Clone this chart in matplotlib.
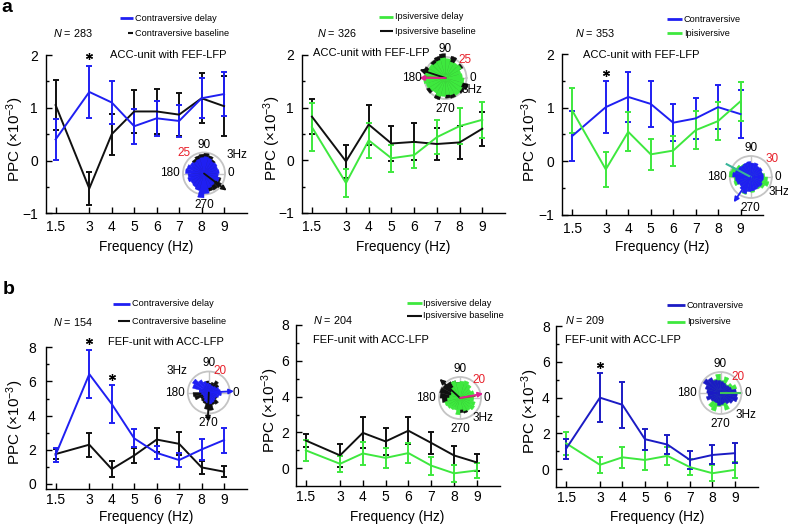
import numpy as np
import matplotlib
matplotlib.use('Agg')
import matplotlib.pyplot as plt

plt.rcParams['font.family'] = ['Liberation Sans', 'DejaVu Sans']
plt.rcParams['mathtext.fontset'] = 'custom'
plt.rcParams['mathtext.rm'] = 'Liberation Sans'
plt.rcParams['mathtext.it'] = 'Liberation Sans:italic'

W, H, DPI = 788, 525, 100

# ---------------- data ----------------
freqs = [1.5, 3, 4, 5, 6, 7, 8, 9]
freq_labels = ['1.5', '3', '4', '5', '6', '7', '8', '9']

# panel a, left: ACC-unit with FEF-LFP (N = 283)
a1_contra_delay = [0.40, 1.30, 1.10, 0.65, 0.80, 0.75, 1.18, 1.26]
a1_contra_delay_err = [0.39, 0.49, 0.40, 0.33, 0.33, 0.30, 0.38, 0.42]
a1_contra_base = [1.05, -0.53, 0.50, 0.93, 0.93, 0.87, 1.18, 1.03]
a1_contra_base_err = [0.47, 0.31, 0.39, 0.40, 0.43, 0.41, 0.47, 0.57]
a1_star_x, a1_star_y = [3], [1.98]

# panel a, middle (N = 326)
a2_ipsi_delay = [0.63, -0.43, 0.38, 0.04, 0.10, 0.44, 0.65, 0.77]
a2_ipsi_delay_err = [0.45, 0.27, 0.33, 0.26, 0.24, 0.32, 0.34, 0.34]
a2_ipsi_base = [0.83, -0.02, 0.68, 0.32, 0.35, 0.31, 0.34, 0.60]
a2_ipsi_base_err = [0.33, 0.31, 0.38, 0.34, 0.35, 0.31, 0.31, 0.32]

# panel a, right (N = 353)
a3_contra = [0.47, 1.01, 1.20, 1.07, 0.72, 0.80, 1.01, 0.88]
a3_contra_err = [0.46, 0.48, 0.47, 0.43, 0.35, 0.38, 0.41, 0.45]
a3_ipsi = [0.95, -0.15, 0.55, 0.13, 0.20, 0.58, 0.75, 1.12]
a3_ipsi_err = [0.42, 0.33, 0.36, 0.29, 0.28, 0.35, 0.35, 0.36]
a3_star_x, a3_star_y = [3], [1.65]

# panel b, left: FEF-unit with ACC-LFP (N = 154)
b1_contra_delay = [1.70, 6.43, 4.68, 2.67, 1.82, 1.40, 2.02, 2.57]
b1_contra_delay_err = [0.42, 1.40, 1.10, 0.53, 0.38, 0.42, 0.60, 0.73]
b1_contra_base = [1.75, 2.30, 0.87, 1.67, 2.60, 2.35, 0.97, 0.72]
b1_contra_base_err = [0.30, 0.70, 0.45, 0.45, 0.70, 0.68, 0.38, 0.33]
b1_star_x, b1_star_y = [3, 4], [8.35, 6.25]

# panel b, middle (N = 204)
b2_ipsi_delay = [1.00, 0.25, 0.83, 0.58, 0.85, 0.15, -0.28, -0.12]
b2_ipsi_delay_err = [0.60, 0.45, 0.62, 0.55, 0.55, 0.50, 0.47, 0.43]
b2_ipsi_base = [1.55, 0.72, 1.98, 1.50, 2.10, 1.42, 0.72, 0.33]
b2_ipsi_base_err = [0.35, 0.66, 0.87, 0.75, 0.77, 0.63, 0.52, 0.47]

# panel b, right (N = 209)
b3_contra = [1.15, 4.00, 3.60, 1.68, 1.38, 0.52, 0.80, 0.90]
b3_contra_err = [0.55, 1.37, 1.28, 0.58, 0.52, 0.52, 0.53, 0.55]
b3_ipsi = [1.45, 0.25, 0.67, 0.52, 0.75, 0.12, -0.22, -0.03]
b3_ipsi_err = [0.65, 0.45, 0.58, 0.55, 0.50, 0.43, 0.45, 0.45]
b3_star_x, b3_star_y = [3], [5.8]

# rose histograms of 3 Hz phases (24 bins of 15 deg, counts)
rose_bin_deg = np.arange(7.5, 360, 15)
a1_rose_delay = [18, 17, 18, 17, 19, 20, 19, 18, 17, 19, 21, 22, 19, 20, 18, 19, 21, 29, 24, 18, 17, 16, 19, 17]
a1_rose_base = [14, 15, 16, 19, 22, 24, 23, 22, 20, 16, 14, 13, 15, 16, 17, 18, 20, 19, 20, 22, 23, 24, 21, 16]
a2_rose_delay = [20, 19, 22, 21, 20, 23, 24, 22, 21, 23, 22, 25, 26, 24, 22, 21, 23, 22, 20, 21, 24, 23, 21, 22]
a2_rose_base = [15, 17, 24, 18, 27, 22, 29, 27, 25, 20, 27, 18, 14, 22, 26, 18, 27, 20, 24, 25, 18, 26, 28, 16]
a3_rose_contra = [18, 17, 19, 18, 21, 20, 22, 21, 20, 21, 23, 26, 22, 21, 19, 22, 25, 21, 20, 19, 18, 19, 17, 18]
a3_rose_ipsi = [20, 17, 15, 16, 18, 19, 20, 19, 21, 24, 29, 31, 24, 25, 17, 20, 26, 20, 22, 17, 20, 23, 27, 24]
b1_rose_delay = [11, 10, 8, 7, 7, 8, 9, 11, 14, 18, 16, 9, 7, 6, 6, 7, 9, 10, 11, 10, 9, 8, 10, 12]
b1_rose_base = [9, 8, 11, 13, 10, 9, 11, 8, 7, 6, 7, 9, 15, 14, 9, 10, 11, 16, 17, 12, 13, 9, 8, 7]
b2_rose_delay = [13, 14, 12, 15, 17, 16, 15, 17, 12, 10, 9, 10, 12, 15, 14, 13, 12, 16, 11, 13, 14, 16, 15, 13]
b2_rose_base = [10, 11, 10, 12, 14, 13, 15, 17, 18, 19, 20, 19, 17, 12, 11, 10, 9, 11, 14, 15, 12, 11, 10, 9]
b3_rose_contra = [15, 11, 10, 9, 10, 11, 12, 13, 17, 19, 15, 13, 12, 14, 11, 10, 10, 12, 11, 10, 12, 14, 17, 16]
b3_rose_ipsi = [12, 16, 13, 10, 16, 12, 18, 14, 13, 12, 13, 10, 11, 12, 10, 16, 18, 13, 12, 17, 10, 11, 12, 14]

# mean-phase vectors: (angle deg, length in ring units, colour key, with head)
a1_vectors = [(323, 1.35, 'k', True)]
a2_vectors = [(162, 1.3, 'k', True), (180, 1.25, 'm', True), (177, 1.0, 'o', False)]
a3_vectors = [(236, 1.45, 'b', True), (152, 1.3, 't', False)]
b1_vectors = [(3, 1.2, 'b', True), (268, 1.38, 'k', True)]
b2_vectors = [(137, 1.33, 'k', True), (11, 1.12, 'm', True), (8, 0.7, 'r', False)]
b3_vectors = [(0, 0.95, 'g', False)]

BLUE = '#1f1ff2'
BLUE2 = '#1b1bc4'
GREEN = '#3ee83e'
BLACK = '#101010'
VEC_COLORS = {'k': BLACK, 'm': '#e0208f', 'o': '#7d8a3c', 'b': BLUE, 't': '#38b59a',
              'r': '#8b5a3c', 'g': '#3ec05a'}

fig = plt.figure(figsize=(W / DPI, H / DPI), dpi=DPI)


def px_axes(L, T, R, B, **kw):
    return fig.add_axes([L / W, 1 - B / H, (R - L) / W, (B - T) / H], **kw)


def line_panel(box, ylim, yticks, yminor, series, stars, ylab_px, xlab_px, xpad, ypad):
    L, T, R, B = box
    ax = px_axes(L, T, R, B)
    ax.set_facecolor('none')
    for m, e, c in series:
        ax.errorbar(freqs, m, yerr=e, color=c, lw=1.4, elinewidth=1.4,
                    capsize=2.2, capthick=1.4, clip_on=False)
    if stars is not None:
        ax.plot(stars[0], stars[1], ls='none', marker=(6, 2, 0), ms=5, mew=0.9,
                color='k', clip_on=False)
    ax.set_xlim(1.05, 10)
    ax.set_ylim(*ylim)
    ax.set_xticks(freqs, freq_labels)
    ax.set_yticks(yticks)
    ax.set_yticks(yminor, minor=True)
    for s in ['top', 'right']:
        ax.spines[s].set_visible(False)
    for s in ['left', 'bottom']:
        ax.spines[s].set_linewidth(1.0)
    ax.tick_params(which='major', direction='in', length=4, width=1, labelsize=10)
    ax.tick_params(axis='x', pad=xpad)
    ax.tick_params(axis='y', pad=ypad)
    ax.tick_params(which='minor', direction='in', length=2.5, width=1)
    ax.set_xlabel('Frequency (Hz)', fontsize=9.8)
    ax.set_ylabel(r'PPC ($\times$10$^{-3}$)', fontsize=11)
    ax.xaxis.label.set_va('center')
    ax.yaxis.label.set_va('center')
    ax.xaxis.set_label_coords(0.5, (B - xlab_px) / (B - T))
    ax.yaxis.set_label_coords((ylab_px - L) / (R - L), 0.47)
    return ax


def rose(cx, cy, R, ring, back, back_c, front, front_c, vectors):
    pax = fig.add_axes([(cx - R) / W, 1 - (cy + R) / H, 2 * R / W, 2 * R / H], projection='polar')
    pax.set_facecolor('white')
    th = np.deg2rad(rose_bin_deg)
    wd = np.deg2rad(15)
    pax.bar(th, back, width=wd, color=back_c, edgecolor=back_c, lw=0.3, zorder=3, clip_on=False)
    pax.bar(th, front, width=wd, color=front_c, edgecolor=front_c, lw=0.3, zorder=4, clip_on=False)
    for ang, ln, ck, head in vectors:
        col = VEC_COLORS[ck]
        if head:
            pax.annotate('', xy=(np.deg2rad(ang), ln * ring), xytext=(0, 0),
                         arrowprops=dict(arrowstyle='-|>', color=col, lw=1.3, mutation_scale=7,
                                         shrinkA=0, shrinkB=0),
                         annotation_clip=False, zorder=6)
        else:
            pax.plot([0, np.deg2rad(ang)], [0, ln * ring], color=col, lw=1.5, zorder=5, clip_on=False)
    pax.set_ylim(0, ring)
    pax.set_yticks([])
    pax.set_xticks(np.deg2rad([0, 90, 180, 270]))
    pax.set_xticklabels([])
    pax.grid(True, color='#c4c4c4', lw=1.0)
    pax.set_axisbelow(True)
    pax.spines['polar'].set_color('#c4c4c4')
    pax.spines['polar'].set_linewidth(1.3)
    return pax


# ---------------- panels ----------------
a_yt, a_ym = [-1, 0, 1, 2], [-0.5, 0.5, 1.5]
b_yt, b_ym = [0, 2, 4, 6, 8], [1, 3, 5, 7]

line_panel((45.5, 55, 246.5, 213.3), (-1, 2), a_yt, a_ym,
           [(a1_contra_base, a1_contra_base_err, BLACK), (a1_contra_delay, a1_contra_delay_err, BLUE)],
           (a1_star_x, a1_star_y), 15, 247, 5, 5.5)
line_panel((301.7, 55, 505, 213), (-1, 2), a_yt, a_ym,
           [(a2_ipsi_base, a2_ipsi_base_err, BLACK), (a2_ipsi_delay, a2_ipsi_delay_err, GREEN)],
           None, 272, 247, 5, 5.5)
line_panel((562, 54, 763, 215), (-1, 2), a_yt, a_ym,
           [(a3_contra, a3_contra_err, BLUE), (a3_ipsi, a3_ipsi_err, GREEN)],
           (a3_star_x, a3_star_y), 530, 247, 5, 5.5)
line_panel((45.5, 347.3, 246.5, 489.1), (-0.3, 8), b_yt, b_ym,
           [(b1_contra_base, b1_contra_base_err, BLACK), (b1_contra_delay, b1_contra_delay_err, BLUE)],
           (b1_star_x, b1_star_y), 15, 517, 3, 7)
line_panel((295.6, 325, 499.5, 486.2), (-1, 8), b_yt, b_ym,
           [(b2_ipsi_base, b2_ipsi_base_err, BLACK), (b2_ipsi_delay, b2_ipsi_delay_err, GREEN)],
           None, 270, 517, 2.5, 4.5)
line_panel((556, 326, 757.5, 487.2), (-1, 8), b_yt, b_ym,
           [(b3_ipsi, b3_ipsi_err, GREEN), (b3_contra, b3_contra_err, BLUE2)],
           (b3_star_x, b3_star_y), 530, 517, 2.5, 4.5)

# rose insets: (cx, cy, R, ring label, red-label offset, 3Hz offset)
insets = [
    (204, 173.5, 21, 25, a1_rose_base, BLACK, a1_rose_delay, BLUE, a1_vectors, (-20, -20), (33, -19)),
    (445.5, 78, 21, 25, a2_rose_base, BLACK, a2_rose_delay, GREEN, a2_vectors, (20, -18), (26, 12)),
    (750.8, 177, 21, 30, a3_rose_ipsi, GREEN, a3_rose_contra, BLUE, a3_vectors, (21, -18), (28, 15)),
    (208.8, 392.5, 21, 20, b1_rose_base, BLACK, b1_rose_delay, BLUE, b1_vectors, (11, -21), (-32, -21)),
    (460, 398, 21, 20, b2_rose_base, BLACK, b2_rose_delay, GREEN, b2_vectors, (19, -18), (23, 20)),
    (720.5, 393, 21, 20, b3_rose_ipsi, GREEN, b3_rose_contra, BLUE2, b3_vectors, (18, -16), (25, 22)),
]
for cx, cy, R, ring, back, bc, front, fc, vec, roff, hoff in insets:
    rose(cx, cy, R, ring, back, bc, front, fc, vec)

# ---------------- overlay text (pixel coordinates) ----------------
ov = fig.add_axes([0, 0, 1, 1])
ov.set_xlim(0, W)
ov.set_ylim(H, 0)
ov.axis('off')

for cx, cy, R, ring, back, bc, front, fc, vec, roff, hoff in insets:
    fs = 8.5
    ov.text(cx, cy - R - 8, '90', ha='center', va='center', fontsize=fs)
    ov.text(cx, cy + R + 10, '270', ha='center', va='center', fontsize=fs)
    ov.text(cx - R - 3, cy, '180', ha='right', va='center', fontsize=fs)
    ov.text(cx + R + 3, cy, '0', ha='left', va='center', fontsize=fs)
    ov.text(cx + roff[0], cy + roff[1], str(ring), ha='center', va='center', fontsize=fs, color='#e8202a')
    ov.text(cx + hoff[0], cy + hoff[1], '3Hz', ha='center', va='center', fontsize=fs)

# legends
legends = [
    ((120, 133, 18.3, BLUE, 'Contraversive delay'), (128, 133, 33.3, BLACK, 'Contraversive baseline'), 135),
    ((379, 393, 16.7, GREEN, 'Ipsiversive delay'), (380, 393, 31, BLACK, 'Ipsiversive baseline'), 395),
    ((667, 682, 19.3, BLUE, 'Contraversive'), (667, 682, 33.3, GREEN, 'Ipisiversive'), 684),
    ((113, 130, 304, BLUE, 'Contraversive delay'), (118, 130, 321, BLACK, 'Contraversive baseline'), 132),
    ((407, 422, 303.3, GREEN, 'Ipsiversive delay'), (407, 422, 315.7, BLACK, 'Ipsiversive baseline'), 423.5),
    ((667, 685, 305, BLUE2, 'Contraversive'), (667, 685, 321.7, GREEN, 'Ipsiversive'), 687),
]
for e1, e2, tx in legends:
    for x0, x1, y, c, lab in (e1, e2):
        ov.plot([x0, x1], [y, y], color=c, lw=2.0 if c != BLACK else 1.5, solid_capstyle='butt')
        ov.text(tx, y, lab, ha='left', va='center', fontsize=6.6)

n_texts = [(53.3, 33.3, '283'), (316.7, 33.3, '326'), (575, 33.3, '353'),
           (53.3, 321.7, '154'), (313.3, 320, '204'), (565, 320, '209')]
for x, y, n in n_texts:
    ov.text(x, y, r'$N$ = ' + n, ha='left', va='center', fontsize=7.8)

titles = [(110, 55, 'ACC-unit with FEF-LFP'), (313.3, 53, 'ACC-unit with FEF-LFP'),
          (582.7, 55, 'ACC-unit with FEF-LFP'), (108.3, 341.7, 'FEF-unit with ACC-LFP'),
          (313.3, 340, 'FEF-unit with ACC-LFP'), (565, 340, 'FEF-unit with ACC-LFP')]
for x, y, t in titles:
    ov.text(x, y, t, ha='left', va='center', fontsize=8)

ov.text(6.5, 8, 'a', ha='center', va='center', fontsize=14, fontweight='bold')
ov.text(8.5, 290, 'b', ha='center', va='center', fontsize=14, fontweight='bold')

fig.savefig('out.png', dpi=DPI)
